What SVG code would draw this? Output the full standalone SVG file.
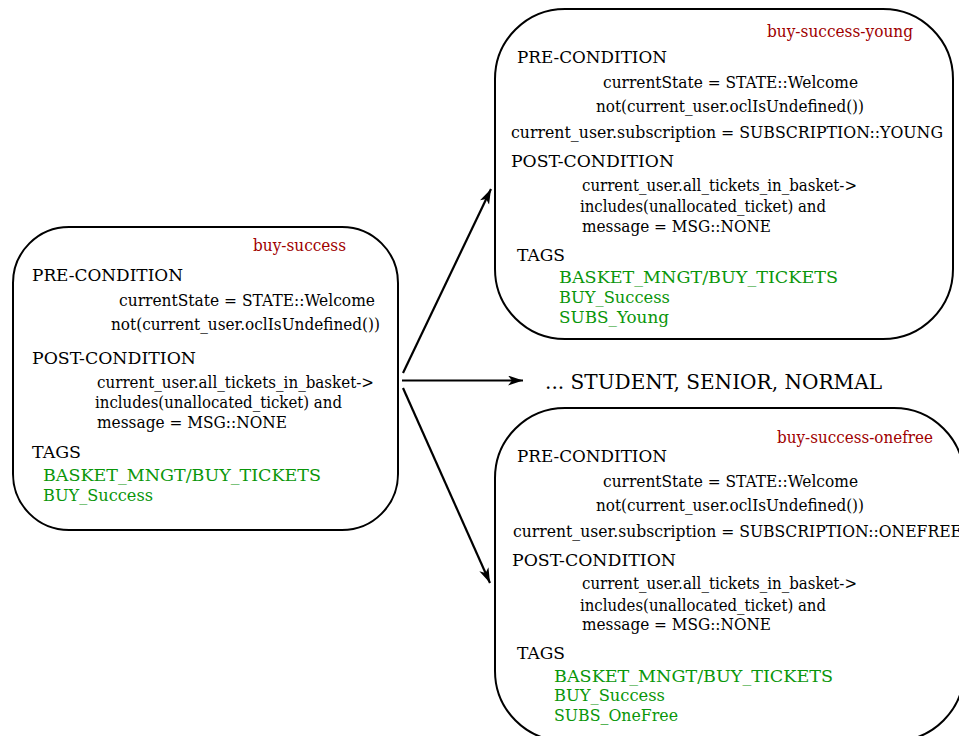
<svg xmlns="http://www.w3.org/2000/svg" width="959" height="736" viewBox="0 0 959 736">
<defs>
<style>
.box{fill:#fff;stroke:#000;stroke-width:2}
text{font-family:"DejaVu Serif","Liberation Serif",serif;font-size:17px;fill:#000}
.t{fill:#a00000}
.g{fill:#0a960a}
.c{stroke:#000;stroke-width:2.2;fill:none}
.big{font-size:21px}
</style>
<marker id="ah" markerUnits="userSpaceOnUse" markerWidth="16" markerHeight="12" refX="15" refY="5" orient="auto">
<path d="M0,0 L15,5 L0,10 L4,5 z" fill="#000"/>
</marker>
</defs>
<rect width="959" height="736" fill="#fff"/>
<g id="buy-success">
<rect class="box" x="13" y="227" width="385" height="303" rx="56" ry="56"/>
<text class="t" x="253" y="251" textLength="93" lengthAdjust="spacingAndGlyphs">buy-success</text>
<text x="32" y="281" textLength="151" lengthAdjust="spacingAndGlyphs">PRE-CONDITION</text>
<text x="119" y="306" textLength="256" lengthAdjust="spacingAndGlyphs">currentState = STATE::Welcome</text>
<text x="111" y="330" textLength="269" lengthAdjust="spacingAndGlyphs">not(current_user.oclIsUndefined())</text>
<text x="32" y="364" textLength="164" lengthAdjust="spacingAndGlyphs">POST-CONDITION</text>
<text x="97" y="388" textLength="277" lengthAdjust="spacingAndGlyphs">current_user.all_tickets_in_basket-&gt;</text>
<text x="95" y="408" textLength="247" lengthAdjust="spacingAndGlyphs">includes(unallocated_ticket) and</text>
<text x="97" y="428" textLength="190" lengthAdjust="spacingAndGlyphs">message = MSG::NONE</text>
<text x="32" y="458" textLength="49" lengthAdjust="spacingAndGlyphs">TAGS</text>
<text class="g" x="43" y="481" textLength="278" lengthAdjust="spacingAndGlyphs">BASKET_MNGT/BUY_TICKETS</text>
<text class="g" x="43" y="501" textLength="110" lengthAdjust="spacingAndGlyphs">BUY_Success</text>
</g>
<g id="buy-success-young">
<rect class="box" x="495" y="9" width="458" height="330" rx="70" ry="70"/>
<text class="t" x="767" y="37" textLength="146" lengthAdjust="spacingAndGlyphs">buy-success-young</text>
<text x="517" y="63" textLength="150" lengthAdjust="spacingAndGlyphs">PRE-CONDITION</text>
<text x="603" y="88" textLength="255" lengthAdjust="spacingAndGlyphs">currentState = STATE::Welcome</text>
<text x="596" y="112" textLength="268" lengthAdjust="spacingAndGlyphs">not(current_user.oclIsUndefined())</text>
<text x="511" y="138" textLength="432" lengthAdjust="spacingAndGlyphs">current_user.subscription = SUBSCRIPTION::YOUNG</text>
<text x="511" y="167" textLength="163" lengthAdjust="spacingAndGlyphs">POST-CONDITION</text>
<text x="582" y="191" textLength="275" lengthAdjust="spacingAndGlyphs">current_user.all_tickets_in_basket-&gt;</text>
<text x="580" y="212" textLength="246" lengthAdjust="spacingAndGlyphs">includes(unallocated_ticket) and</text>
<text x="582" y="232" textLength="189" lengthAdjust="spacingAndGlyphs">message = MSG::NONE</text>
<text x="517" y="261" textLength="48" lengthAdjust="spacingAndGlyphs">TAGS</text>
<text class="g" x="559" y="283" textLength="279" lengthAdjust="spacingAndGlyphs">BASKET_MNGT/BUY_TICKETS</text>
<text class="g" x="559" y="303" textLength="111" lengthAdjust="spacingAndGlyphs">BUY_Success</text>
<text class="g" x="559" y="323" textLength="110" lengthAdjust="spacingAndGlyphs">SUBS_Young</text>
</g>
<g id="buy-success-onefree">
<rect class="box" x="495" y="408" width="469" height="333" rx="70" ry="70"/>
<text class="t" x="777" y="443" textLength="156" lengthAdjust="spacingAndGlyphs">buy-success-onefree</text>
<text x="517" y="462" textLength="150" lengthAdjust="spacingAndGlyphs">PRE-CONDITION</text>
<text x="603" y="487" textLength="255" lengthAdjust="spacingAndGlyphs">currentState = STATE::Welcome</text>
<text x="596" y="511" textLength="268" lengthAdjust="spacingAndGlyphs">not(current_user.oclIsUndefined())</text>
<text x="513" y="537" textLength="449" lengthAdjust="spacingAndGlyphs">current_user.subscription = SUBSCRIPTION::ONEFREE</text>
<text x="512" y="566" textLength="164" lengthAdjust="spacingAndGlyphs">POST-CONDITION</text>
<text x="582" y="589" textLength="275" lengthAdjust="spacingAndGlyphs">current_user.all_tickets_in_basket-&gt;</text>
<text x="580" y="611" textLength="246" lengthAdjust="spacingAndGlyphs">includes(unallocated_ticket) and</text>
<text x="582" y="630" textLength="189" lengthAdjust="spacingAndGlyphs">message = MSG::NONE</text>
<text x="517" y="659" textLength="48" lengthAdjust="spacingAndGlyphs">TAGS</text>
<text class="g" x="554" y="682" textLength="279" lengthAdjust="spacingAndGlyphs">BASKET_MNGT/BUY_TICKETS</text>
<text class="g" x="554" y="701" textLength="111" lengthAdjust="spacingAndGlyphs">BUY_Success</text>
<text class="g" x="554" y="721" textLength="124" lengthAdjust="spacingAndGlyphs">SUBS_OneFree</text>
</g>
<g id="others">
<text class="big" x="545" y="389" textLength="337" lengthAdjust="spacingAndGlyphs">... STUDENT, SENIOR, NORMAL</text>
</g>
<g id="connectors">
<line class="c" x1="403" y1="373" x2="491" y2="189" marker-end="url(#ah)"/>
<line class="c" x1="402" y1="380.5" x2="523" y2="380.5" marker-end="url(#ah)"/>
<line class="c" x1="403" y1="388" x2="490" y2="583" marker-end="url(#ah)"/>
</g>
</svg>
